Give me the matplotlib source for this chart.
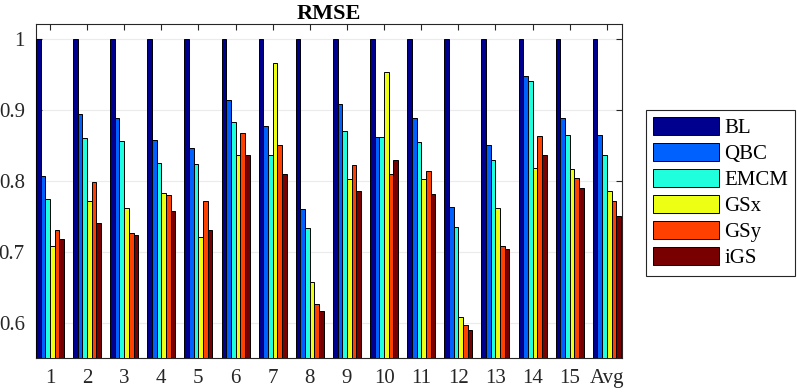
import numpy as np
import matplotlib
matplotlib.use('Agg')
import matplotlib.pyplot as plt

plt.rcParams['font.family'] = ['Liberation Serif', 'DejaVu Serif']

groups = ['1', '2', '3', '4', '5', '6', '7', '8', '9', '10', '11', '12', '13', '14', '15', 'Avg']
methods = ['BL', 'QBC', 'EMCM', 'GSx', 'GSy', 'iGS']

BL   = [1.0] * 16
QBC  = [0.807, 0.894, 0.889, 0.857, 0.846, 0.914, 0.877, 0.760, 0.908, 0.862, 0.889, 0.763, 0.851, 0.948, 0.889, 0.864]
EMCM = [0.774, 0.860, 0.856, 0.825, 0.824, 0.883, 0.836, 0.734, 0.870, 0.862, 0.855, 0.735, 0.829, 0.941, 0.864, 0.837]
GSx  = [0.708, 0.772, 0.761, 0.783, 0.721, 0.836, 0.966, 0.658, 0.803, 0.954, 0.802, 0.608, 0.761, 0.818, 0.817, 0.785]
GSy  = [0.731, 0.798, 0.727, 0.780, 0.771, 0.867, 0.851, 0.626, 0.822, 0.810, 0.814, 0.596, 0.708, 0.863, 0.804, 0.771]
iGS  = [0.718, 0.740, 0.723, 0.757, 0.731, 0.837, 0.809, 0.616, 0.786, 0.829, 0.781, 0.589, 0.704, 0.837, 0.790, 0.750]

series = [BL, QBC, EMCM, GSx, GSy, iGS]
colors = [(0.0, 0.0, 0.56), (0.0, 0.38, 1.0), (0.12, 1.0, 0.87),
          (0.93, 1.0, 0.07), (1.0, 0.25, 0.0), (0.47, 0.0, 0.0)]

fig = plt.figure(figsize=(7.97, 3.92), dpi=100)
ax = fig.add_axes([0.045, 0.0865, 0.7355, 0.852])

x = np.arange(1, len(groups) + 1)
w = 0.126
for i, (vals, c, lab) in enumerate(zip(series, colors, methods)):
    ax.bar(x + (i - 2.5) * w, vals, width=w, color=c, edgecolor='black',
           linewidth=0.7, label=lab, zorder=3)

ax.set_xlim(0.622, 16.41)
ax.set_ylim(0.55, 1.021)
ax.set_xticks(x)
ax.set_xticklabels(groups)
ax.set_yticks([0.6, 0.7, 0.8, 0.9, 1.0])
ax.set_yticklabels(['0.6', '0.7', '0.8', '0.9', '1'])
ax.tick_params(direction='in', length=4, width=0.8, labelsize=15, colors='#262626',
               top=True, right=True, pad=8)
for s in ax.spines.values():
    s.set_color('#262626')
    s.set_linewidth(0.8)
ax.grid(axis='y', color='#ebebeb', linewidth=0.8, zorder=0)
ax.set_axisbelow(True)
ax.set_title('RMSE', fontsize=16, fontweight='bold', pad=4)

leg = fig.legend(loc='upper left', bbox_to_anchor=(646 / 797, 1 - 110 / 392),
                 borderaxespad=0, fontsize=15, handlelength=3.15, handleheight=0.9,
                 handletextpad=0.25, labelspacing=0.25, borderpad=0.35,
                 fancybox=False, edgecolor='#262626', framealpha=1)
leg.get_frame().set_linewidth(0.8)

plt.savefig('out.png', dpi=100)
